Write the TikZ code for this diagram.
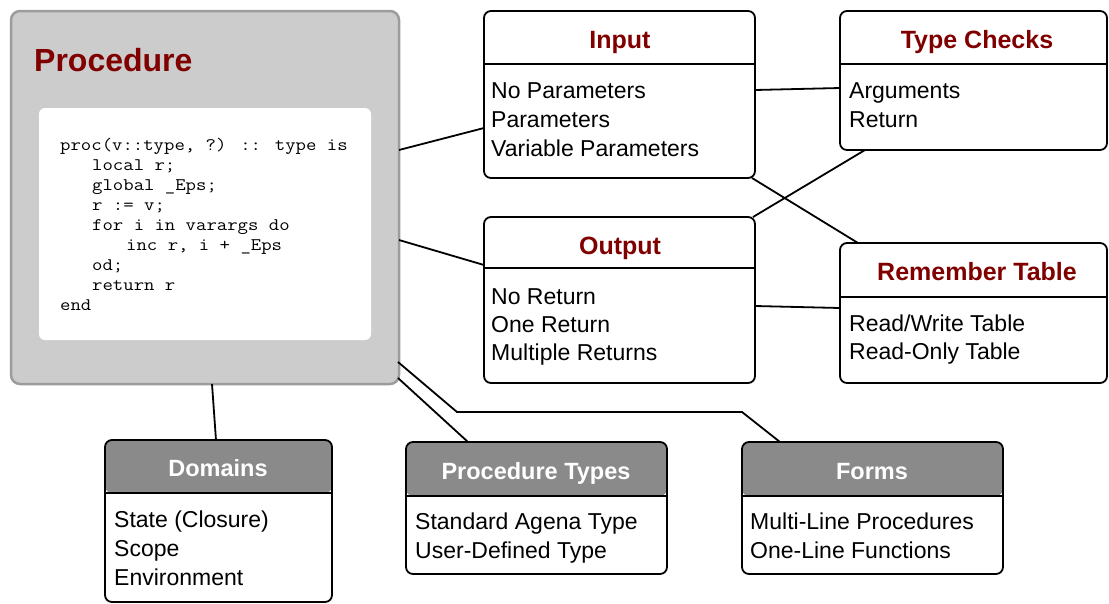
\documentclass[tikz,border=0pt]{standalone}
\usepackage{fontspec}
\setmainfont{Liberation Sans}
\newfontfamily\codefont[FakeStretch=1.14]{Latin Modern Mono}
\usetikzlibrary{calc}
\definecolor{titlered}{HTML}{800000}
\definecolor{procgray}{HTML}{CCCCCC}
\definecolor{procborder}{HTML}{9C9C9C}
\definecolor{hdrgray}{HTML}{8A8A8A}
\begin{document}
\begin{tikzpicture}[x=1pt,y=-1pt,
  box/.style={draw=black, line width=1.8pt, rounded corners=7pt, fill=white, anchor=north west, inner sep=0pt, outer sep=0pt},
  hdr/.style={path picture={\fill[hdrgray] (path picture bounding box.north west) rectangle ([yshift=-#1]path picture bounding box.north east);}},
  link/.style={draw=black, line width=1.8pt},
  ttl/.style={font=\fontsize{25}{28}\selectfont\bfseries, text=titlered, anchor=base, inner sep=0pt},
  wttl/.style={font=\fontsize{23.5}{28}\selectfont\bfseries, text=white, anchor=base, inner sep=0pt},
  item/.style={font=\fontsize{23}{28}\selectfont, anchor=base west, inner sep=0pt},
  code/.style={font=\codefont\fontsize{17.7}{20}\selectfont, anchor=base west, inner sep=0pt}]
\useasboundingbox (0,0) rectangle (1109,603);

% Procedure box
\node[draw=procborder, fill=procgray, line width=2.5pt, rounded corners=9pt, anchor=north west,
      minimum width=388pt, minimum height=373pt, inner sep=0pt, outer sep=0pt] (proc) at (11,11) {};
\node[font=\fontsize{32}{36}\selectfont\bfseries, text=titlered, anchor=base west, inner sep=0pt] (ptitle) at (34,71) {Procedure};
\node[fill=white, rounded corners=6pt, anchor=north west, minimum width=332pt, minimum height=232pt, inner sep=0pt, outer sep=0pt] (codebox) at (39,108) {};
\node[code] (c1) at (60,150) {proc(v::type, ?) :: type is};
\node[code] (c2) at (92,170) {local r;};
\node[code] (c3) at (92,190) {global \_Eps;};
\node[code] (c4) at (92,210) {r := v;};
\node[code] (c5) at (92,230) {for i in varargs do};
\node[code] (c6) at (126,250) {inc r, i + \_Eps};
\node[code] (c7) at (92,270) {od;};
\node[code] (c8) at (92,290) {return r};
\node[code] (c9) at (60,310) {end};

% Input
\node[box, minimum width=271pt, minimum height=167pt] (input) at (484,11) {};
\draw[link] (484,64) -- (755,64);
\node[ttl] (inputt) at (620,48) {Input};
\node[item] (i1) at (491,98) {No Parameters};
\node[item] (i2) at (491,127) {Parameters};
\node[item] (i3) at (491,156) {Variable Parameters};

% Type Checks
\node[box, minimum width=267pt, minimum height=139pt] (types) at (840,11) {};
\draw[link] (840,64) -- (1107,64);
\node[ttl] (typest) at (977,48) {Type Checks};
\node[item] (t1) at (849,98) {Arguments};
\node[item] (t2) at (849,127) {Return};

% Output
\node[box, minimum width=271pt, minimum height=166pt] (output) at (484,217) {};
\draw[link] (484,268) -- (755,268);
\node[ttl] (outputt) at (620,254) {Output};
\node[item] (o1) at (491,304) {No Return};
\node[item] (o2) at (491,332) {One Return};
\node[item] (o3) at (491,360) {Multiple Returns};

% Remember Table
\node[box, minimum width=267pt, minimum height=140pt] (remember) at (840,243) {};
\draw[link] (840,297) -- (1107,297);
\node[ttl] (remembert) at (977,280) {Remember Table};
\node[item] (r1) at (849,331) {Read/Write Table};
\node[item] (r2) at (849,359) {Read-Only Table};

% Domains
\node[box, hdr=53pt, minimum width=227pt, minimum height=162pt] (domains) at (105,440) {};
\draw[link] (105,493) -- (332,493);
\node[wttl] (domainst) at (218,476) {Domains};
\node[item] (d1) at (114,527) {State (Closure)};
\node[item] (d2) at (114,556) {Scope};
\node[item] (d3) at (114,585) {Environment};

% Procedure Types
\node[box, hdr=54pt, minimum width=261pt, minimum height=132pt] (ptypes) at (406,442) {};
\draw[link] (406,496) -- (667,496);
\node[wttl] (ptypest) at (536,479) {Procedure Types};
\node[item] (p1) at (415,529) {Standard Agena Type};
\node[item] (p2) at (415,558) {User-Defined Type};

% Forms
\node[box, hdr=54pt, minimum width=261pt, minimum height=132pt] (forms) at (742,442) {};
\draw[link] (742,496) -- (1003,496);
\node[wttl] (formst) at (872,479) {Forms};
\node[item] (f1) at (750,529) {Multi-Line Procedures};
\node[item] (f2) at (750,558) {One-Line Functions};

% Connectors
\draw[link] ($(proc.north east)+(0,139)$) -- ($(input.north west)+(0,117)$);
\draw[link] ($(proc.north east)+(0,229)$) -- ($(output.north west)+(0,48)$);
\draw[link] ($(input.north east)+(0,79)$) -- ($(types.north west)+(0,77)$);
\draw[link] ($(output.north east)+(0,89)$) -- ($(remember.north west)+(0,65)$);
\draw[link] ($(input.south east)+(-3,0)$) -- ($(remember.north west)+(18,0)$);
\draw[link] ($(output.north east)+(-2,0)$) -- ($(types.south west)+(25,0)$);
\draw[link] ($(proc.south west)+(201,0)$) -- ($(domains.north west)+(111,0)$);
\draw[link] ($(proc.north east)+(-1,367)$) -- ($(ptypes.north west)+(62,0)$);
\coordinate (bendA) at (457,412);
\coordinate (bendB) at (742,412);
\draw[link] ($(proc.north east)+(-1,351)$) -- (bendA) -- (bendB) -- ($(forms.north west)+(38,0)$);
\end{tikzpicture}
\end{document}
